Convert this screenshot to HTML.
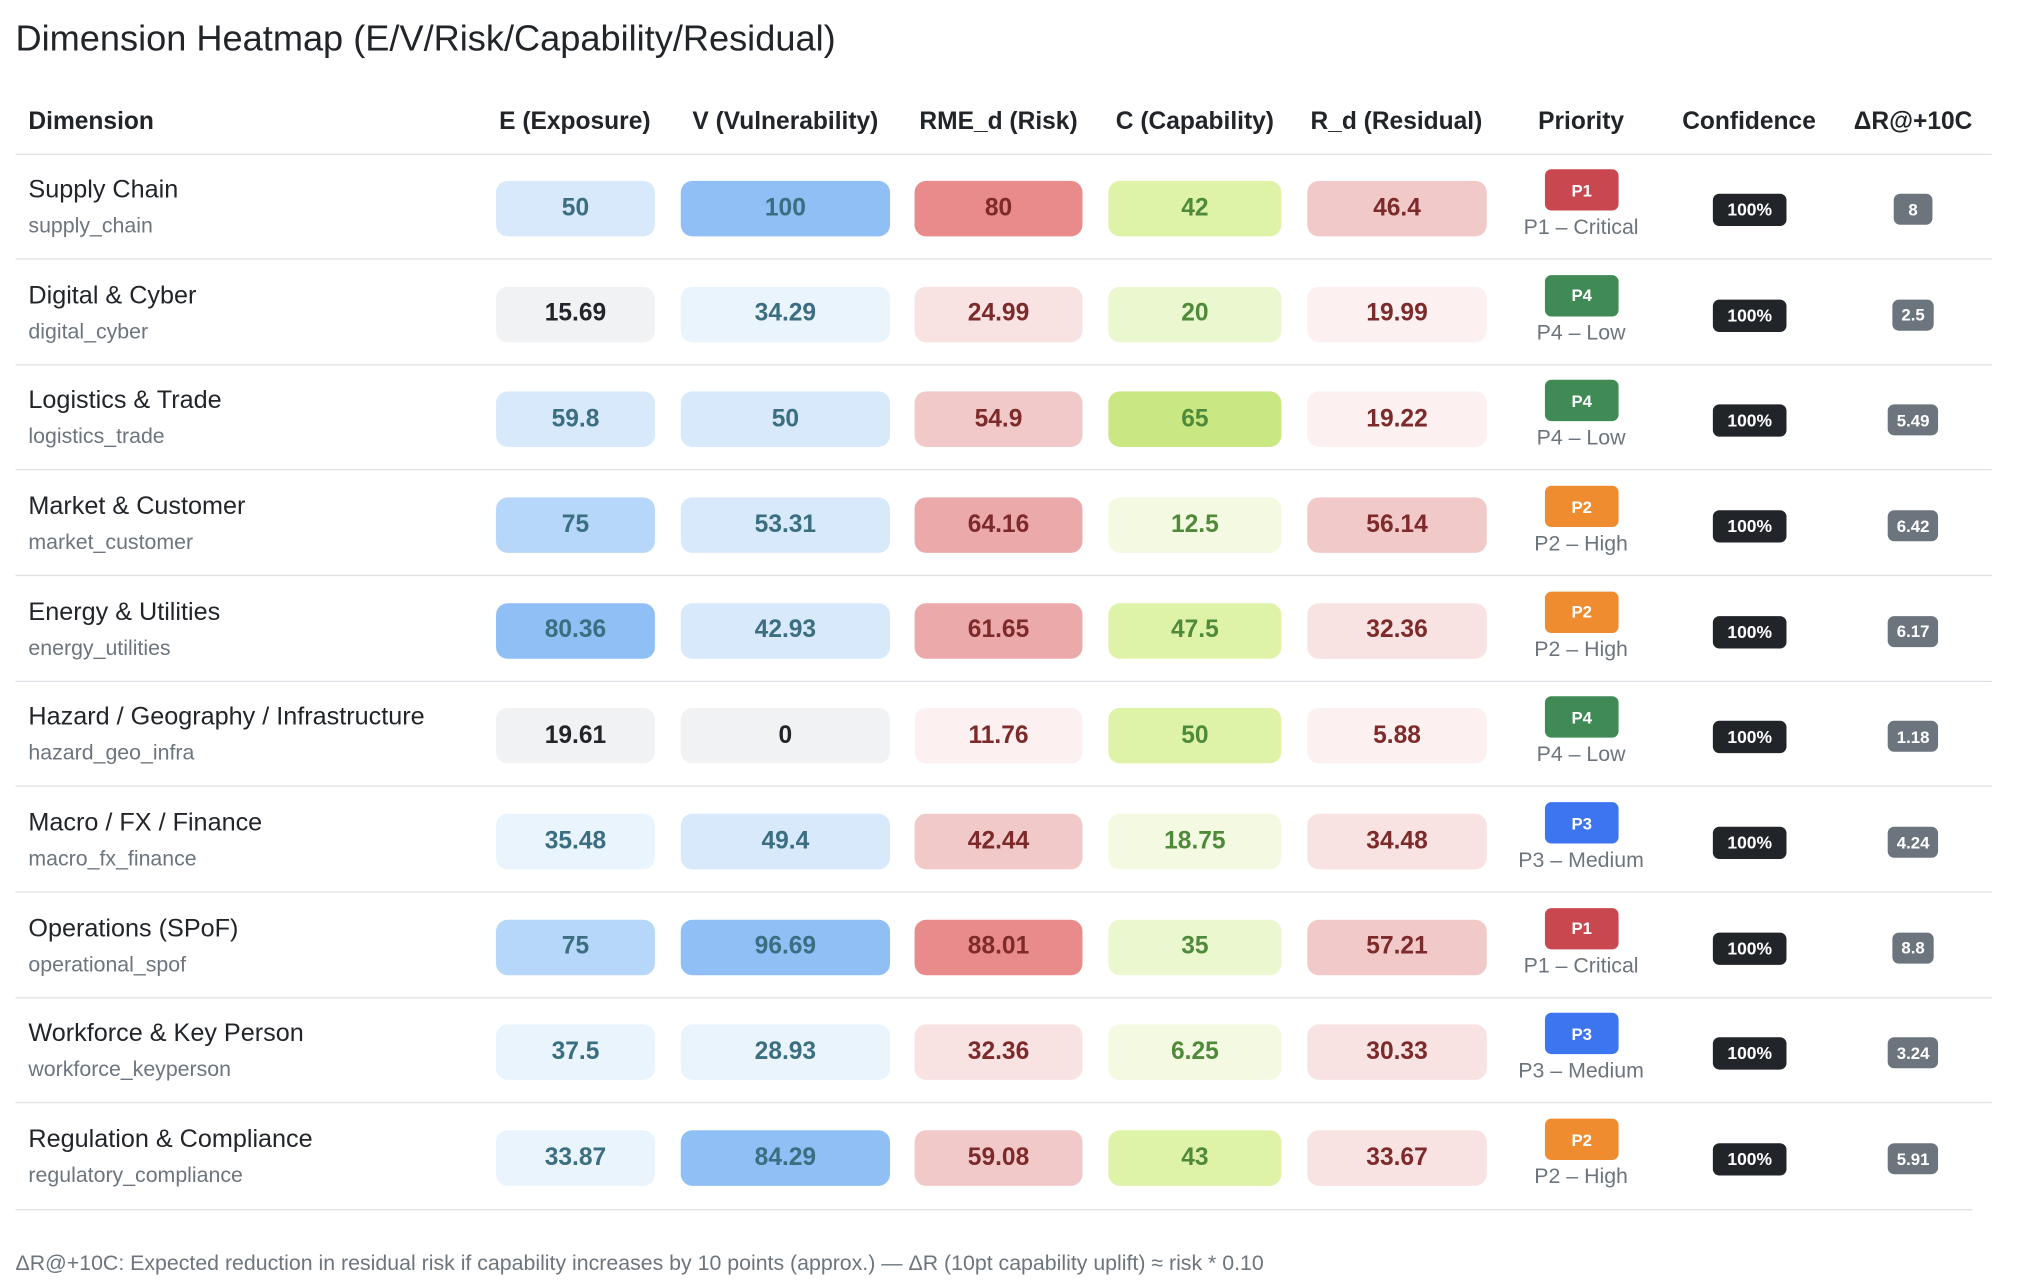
<!DOCTYPE html>
<html><head><meta charset="utf-8"><style>
html,body{margin:0;padding:0;background:#fff;width:2019px;height:1287px;overflow:hidden}
#w{position:absolute;left:0;top:0;width:1563px;height:997px;transform:scale(1.29175);transform-origin:0 0;font-family:"Liberation Sans","DejaVu Sans",sans-serif;color:#212529}
.a{position:absolute}
.t{left:12px;top:14px;font-size:28px;color:#212529}
.h{top:84px;font-size:19px;font-weight:bold;white-space:nowrap;transform:translateX(-50%)}
.ln{left:12px;width:1530px;height:1px;background:#dee2e6}
.nm{left:22px;font-size:19.5px;white-space:nowrap}
.ky{left:22px;font-size:16.5px;color:#6c757d}
.p{height:43px;border-radius:9px;font-size:19px;font-weight:bold;display:flex;align-items:center;justify-content:center}
.b{color:#3a6e80}.r{color:#7d2a2a}.g{color:#4f8a3a}.k{color:#212529}
.pb{width:57px;height:32px;border-radius:5px;color:#fff;font-size:13px;font-weight:bold;display:flex;align-items:center;justify-content:center;left:1196px}
.pl{font-size:16.5px;color:#6c757d;white-space:nowrap;transform:translateX(-50%);left:1224px}
.cf{left:1326px;width:57px;height:25px;border-radius:5px;background:#212529;color:#fff;font-size:13.5px;font-weight:bold;display:flex;align-items:center;justify-content:center}
.dr{height:24px;border-radius:5px;background:#6c757d;color:#fff;font-size:13px;font-weight:bold;display:flex;align-items:center;justify-content:center;padding:0 7px;min-width:16px;transform:translateX(-50%);left:1481px}
</style></head><body><div id="w">
<div class="a t">Dimension Heatmap (E/V/Risk/Capability/Residual)</div>
<div class="a h" style="left:22px;transform:none">Dimension</div>
<div class="a h" style="left:445px">E (Exposure)</div>
<div class="a h" style="left:608px">V (Vulnerability)</div>
<div class="a h" style="left:773px">RME_d (Risk)</div>
<div class="a h" style="left:925px">C (Capability)</div>
<div class="a h" style="left:1081px">R_d (Residual)</div>
<div class="a h" style="left:1224px">Priority</div>
<div class="a h" style="left:1354px">Confidence</div>
<div class="a h" style="left:1481px">ΔR@+10C</div>
<div class="a ln" style="top:119px"></div>
<div id="rows"></div>
<div class="a ln" style="top:936px;width:1515px"></div>
<div class="a" style="left:12px;top:969px;font-size:16.5px;color:#6c757d;white-space:nowrap">ΔR@+10C: Expected reduction in residual risk if capability increases by 10 points (approx.) — ΔR (10pt capability uplift) ≈ risk * 0.10</div>
</div>
<script>
var B={g:'#f1f2f4',v:'#eaf4fd',l:'#d7e9fb',m:'#b6d7fa',s:'#8fbff5'};
var R={f:'#fcf0f0',v:'#f9e2e2',l:'#f2c9c9',m:'#eba9a9',s:'#e98b8b'};
var G={f:'#f4fae2',v:'#eaf7cf',l:'#dff3a8',s:'#c9e884'};
var PC={P1:'#c9474f',P2:'#f08c30',P3:'#3d74f0',P4:'#3f8a55'};
var PL={P1:'Critical',P2:'High',P3:'Medium',P4:'Low'};
var d=[
['Supply Chain','supply_chain','50','l','100','s','80','s','42','l','46.4','l','P1','8'],
['Digital & Cyber','digital_cyber','15.69','g','34.29','v','24.99','v','20','v','19.99','f','P4','2.5'],
['Logistics & Trade','logistics_trade','59.8','l','50','l','54.9','l','65','s','19.22','f','P4','5.49'],
['Market & Customer','market_customer','75','m','53.31','l','64.16','m','12.5','f','56.14','l','P2','6.42'],
['Energy & Utilities','energy_utilities','80.36','s','42.93','l','61.65','m','47.5','l','32.36','v','P2','6.17'],
['Hazard / Geography / Infrastructure','hazard_geo_infra','19.61','g','0','g','11.76','f','50','l','5.88','f','P4','1.18'],
['Macro / FX / Finance','macro_fx_finance','35.48','v','49.4','l','42.44','l','18.75','f','34.48','v','P3','4.24'],
['Operations (SPoF)','operational_spof','75','m','96.69','s','88.01','s','35','v','57.21','l','P1','8.8'],
['Workforce & Key Person','workforce_keyperson','37.5','v','28.93','v','32.36','v','6.25','f','30.33','v','P3','3.24'],
['Regulation & Compliance','regulatory_compliance','33.87','v','84.29','s','59.08','l','43','l','33.67','v','P2','5.91']];
var h='';
d.forEach(function(r,i){
var c=162+i*81.67;
h+='<div class="a nm" style="top:'+(c-26)+'px">'+r[0].replace('&','&amp;')+'</div>';
h+='<div class="a ky" style="top:'+(c+4)+'px">'+r[1]+'</div>';
var cols=[[384,123,B,'b'],[527,162,B,'b'],[708,130,R,'r'],[858,134,G,'g'],[1012,139,R,'r']];
cols.forEach(function(cc,j){var v=r[2+j*2],lv=r[3+j*2];var tc=(lv=='g'&&cc[2]===B)?'k':cc[3];
h+='<div class="a p '+tc+'" style="left:'+cc[0]+'px;width:'+cc[1]+'px;top:'+(c-22)+'px;background:'+cc[2][lv]+'">'+v+'</div>';});
h+='<div class="a pb" style="top:'+(c-31)+'px;background:'+PC[r[12]]+'">'+r[12]+'</div>';
h+='<div class="a pl" style="top:'+(c+5)+'px">'+r[12]+' – '+PL[r[12]]+'</div>';
h+='<div class="a cf" style="top:'+(c-12)+'px">100%</div>';
h+='<div class="a dr" style="top:'+(c-12)+'px">'+r[13]+'</div>';
if(i<9)h+='<div class="a ln" style="top:'+(c+38)+'px"></div>';
});
document.getElementById('rows').innerHTML=h;
</script>
</body></html>
